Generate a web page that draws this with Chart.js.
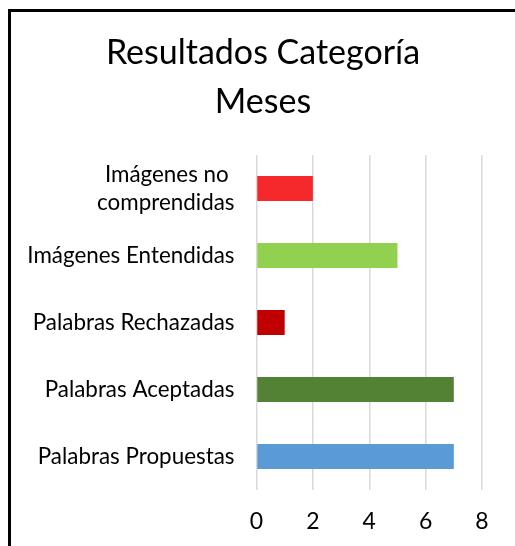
<!DOCTYPE html>
<html>
<head>
<meta charset="utf-8">
<script src="https://cdn.jsdelivr.net/npm/chart.js@4.4.1/dist/chart.umd.min.js"></script>
<style>
  html, body { margin:0; padding:0; background:#fff; overflow:hidden; width:515px; height:546px; }
  #frame { position:absolute; left:8px; top:9px; width:507px; height:537px;
    border-left:3px solid #000; border-top:3px solid #000; box-sizing:border-box; }
  #wrap { position:absolute; left:0; top:0; width:515px; height:546px; }
</style>
</head>
<body>
<div id="frame"></div>
<div id="wrap"><canvas id="c" width="515" height="546"></canvas></div>
<script>
const titulo = ['Resultados Categoría', 'Meses']
const categorias = [['Imágenes no ', 'comprendidas'], 'Imágenes Entendidas', 'Palabras Rechazadas', 'Palabras Aceptadas', 'Palabras Propuestas']
const valores = [2, 5, 1, 7, 7]
const colores = ['#F5292B', '#92D050', '#C00000', '#548235', '#5B9BD5']
const ticksX = [0, 2, 4, 6, 8]

const FONT = 'Lato, "Open Sans", sans-serif'

// titulo centrado sobre el marco, no sobre el area del grafico
const tituloPlugin = {
  id: 'tituloMarco',
  afterDraw(chart) {
    const ctx = chart.ctx
    ctx.save()
    ctx.fillStyle = '#000'
    ctx.font = '34px ' + FONT
    ctx.textAlign = 'center'
    ctx.textBaseline = 'middle'
    titulo.forEach((t, i) => ctx.fillText(t, 263, 53 + i * 49))
    ctx.restore()
  }
}

new Chart(document.getElementById('c'), {
  type: 'bar',
  data: { labels: categorias,
    datasets: [{ data: valores, backgroundColor: colores, barPercentage: 0.37, categoryPercentage: 1 }] },
  options: {
    indexAxis: 'y', responsive: false, animation: false,
    layout: { padding: { left: 12, right: 33, top: 155, bottom: 0 } },
    plugins: { legend: { display: false }, tooltip: { enabled: false } },
    scales: {
      x: { min: 0, max: 8,
        afterBuildTicks: s => { s.ticks = ticksX.map(v => ({ value: v })) },
        afterFit: s => { s.height = 56 },
        border: { display: false },
        grid: { color: '#D9D9D9', lineWidth: 1.5, drawTicks: false },
        ticks: { color: '#000', padding: 18, font: { family: FONT, size: 23 } } },
      y: { afterFit: s => { s.width = 244.5 },
        border: { display: false },
        grid: { display: false, drawTicks: false },
        ticks: { color: '#000', padding: 22, font: { family: FONT, size: 22.4, lineHeight: 1.25 } } }
    }
  },
  plugins: [tituloPlugin]
})
</script>
</body>
</html>
